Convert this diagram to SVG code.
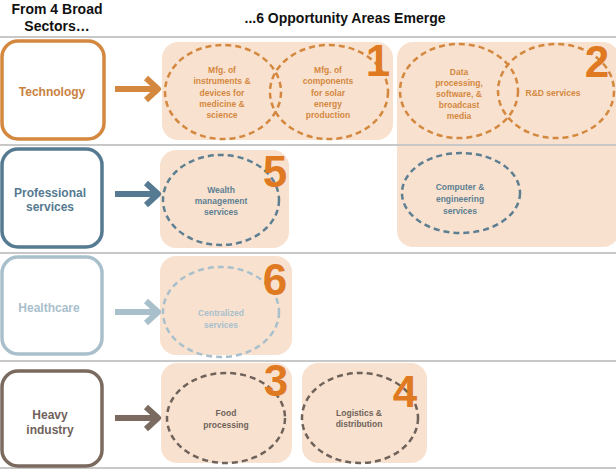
<svg xmlns="http://www.w3.org/2000/svg" width="616" height="469" viewBox="0 0 616 469">
<style>
text{font-family:"Liberation Sans",Arial,sans-serif;font-weight:bold;text-anchor:middle}
.hdr{font-size:14px;fill:#111}
.lbl{font-size:12px}
.et{font-size:8.5px}
.num{font-size:44px;fill:#E07A22}
.opp{fill:#F8E2CF}
.sep{stroke:#C8C8C8;stroke-width:2}
.sec{fill:#fff;stroke-width:3.5}
.ell{fill:none;stroke-width:2.5;stroke-dasharray:6 4}
.arr{fill:none;stroke-width:6;stroke-linejoin:round}
</style>
<rect width="616" height="469" fill="#fff"/>
<g id="header">
<text class="hdr" x="57" y="14">From 4 Broad</text>
<text class="hdr" x="57" y="31">Sectors…</text>
<text class="hdr" x="345" y="23">...6 Opportunity Areas Emerge</text>
</g>
<g id="area1">
<rect class="opp" x="162" y="42" width="231" height="98" rx="16"/>
<ellipse class="ell" cx="223" cy="92" rx="58" ry="47" stroke="#D4883F"/>
<ellipse class="ell" cx="329" cy="92" rx="59" ry="47" stroke="#D4883F"/>
<g fill="#D4883F">
<text class="et" x="222" y="73">Mfg. of</text>
<text class="et" x="222" y="84">instruments &amp;</text>
<text class="et" x="222" y="96">devices for</text>
<text class="et" x="222" y="107">medicine &amp;</text>
<text class="et" x="222" y="118">science</text>
<text class="et" x="328" y="73">Mfg. of</text>
<text class="et" x="328" y="84">components</text>
<text class="et" x="328" y="96">for solar</text>
<text class="et" x="328" y="107">energy</text>
<text class="et" x="328" y="118">production</text>
</g>
<text class="num" x="378" y="76">1</text>
</g>
<g id="area2">
<rect class="opp" x="397" y="42" width="222" height="205" rx="16"/>
<ellipse class="ell" cx="459" cy="91" rx="59" ry="47" stroke="#D4883F"/>
<ellipse class="ell" cx="556" cy="91" rx="58" ry="47" stroke="#D4883F"/>
<g fill="#D4883F">
<text class="et" x="459" y="75">Data</text>
<text class="et" x="459" y="86">processing,</text>
<text class="et" x="459" y="97">software, &amp;</text>
<text class="et" x="459" y="108">broadcast</text>
<text class="et" x="459" y="119">media</text>
<text class="et" x="553" y="96">R&amp;D services</text>
</g>
<text class="num" x="597" y="77">2</text>
<ellipse class="ell" cx="461" cy="193" rx="59" ry="40" stroke="#5E7F92"/>
<g fill="#5E7F92">
<text class="et" x="460" y="190">Computer &amp;</text>
<text class="et" x="460" y="202">engineering</text>
<text class="et" x="460" y="214">services</text>
</g>
</g>
<g id="area5">
<rect class="opp" x="160" y="150" width="129" height="98" rx="16"/>
<ellipse class="ell" cx="221" cy="200" rx="58" ry="45" stroke="#5E7F92"/>
<g fill="#5E7F92">
<text class="et" x="221" y="193">Wealth</text>
<text class="et" x="221" y="204">management</text>
<text class="et" x="221" y="215">services</text>
</g>
<text class="num" x="275" y="187">5</text>
</g>
<g id="area6">
<rect class="opp" x="160" y="256" width="132" height="99" rx="16"/>
<ellipse class="ell" cx="221" cy="312" rx="58" ry="45" stroke="#A9C0CC"/>
<g fill="#A9C0CC">
<text class="et" x="221" y="316">Centralized</text>
<text class="et" x="221" y="328">services</text>
</g>
<text class="num" x="275" y="295">6</text>
</g>
<g id="area3">
<rect class="opp" x="161" y="363" width="131" height="100" rx="16"/>
<ellipse class="ell" cx="226" cy="418" rx="59" ry="45" stroke="#6F625A"/>
<g fill="#6F625A">
<text class="et" x="226" y="416">Food</text>
<text class="et" x="226" y="428">processing</text>
</g>
<text class="num" x="276" y="396">3</text>
</g>
<g id="area4">
<rect class="opp" x="302" y="363" width="125" height="100" rx="16"/>
<ellipse class="ell" cx="360" cy="418" rx="58" ry="45" stroke="#6F625A"/>
<g fill="#6F625A">
<text class="et" x="359" y="416">Logistics &amp;</text>
<text class="et" x="359" y="427">distribution</text>
</g>
<text class="num" x="405" y="407">4</text>
</g>
<g id="separators">
<line class="sep" x1="0" y1="37" x2="616" y2="37"/>
<line class="sep" x1="0" y1="145" x2="616" y2="145"/>
<line class="sep" x1="0" y1="253" x2="616" y2="253"/>
<line class="sep" x1="0" y1="361" x2="616" y2="361"/>
<line class="sep" x1="0" y1="468" x2="616" y2="468"/>
</g>
<g id="technology">
<rect class="sec" x="2" y="41" width="102" height="98" rx="16" stroke="#D4883F"/>
<text class="lbl" x="52" y="96" fill="#C9813E">Technology</text>
</g>
<g id="professional">
<rect class="sec" x="2" y="149" width="100" height="98" rx="16" stroke="#557A91"/>
<text class="lbl" x="50" y="197" fill="#557A91">Professional</text>
<text class="lbl" x="50" y="211" fill="#557A91">services</text>
</g>
<g id="healthcare">
<rect class="sec" x="2" y="257" width="100" height="97" rx="16" stroke="#A9C0CC"/>
<text class="lbl" x="49" y="312" fill="#A9C0CC">Healthcare</text>
</g>
<g id="heavy">
<rect class="sec" x="2" y="371" width="100" height="95" rx="16" stroke="#7A6A5F"/>
<text class="lbl" x="50" y="419" fill="#6F625A">Heavy</text>
<text class="lbl" x="50" y="434" fill="#6F625A">industry</text>
</g>
<g id="connectors">
<path class="arr" d="M115,89 H157 M146,78 L158,89 L146,100" stroke="#D4883F"/>
<path class="arr" d="M115,194 H157 M146,183 L158,194 L146,205" stroke="#557A91"/>
<path class="arr" d="M115,312 H157 M146,301 L158,312 L146,323" stroke="#A9C0CC"/>
<path class="arr" d="M115,418 H157 M146,407 L158,418 L146,429" stroke="#7A6A5F"/>
</g>
</svg>
